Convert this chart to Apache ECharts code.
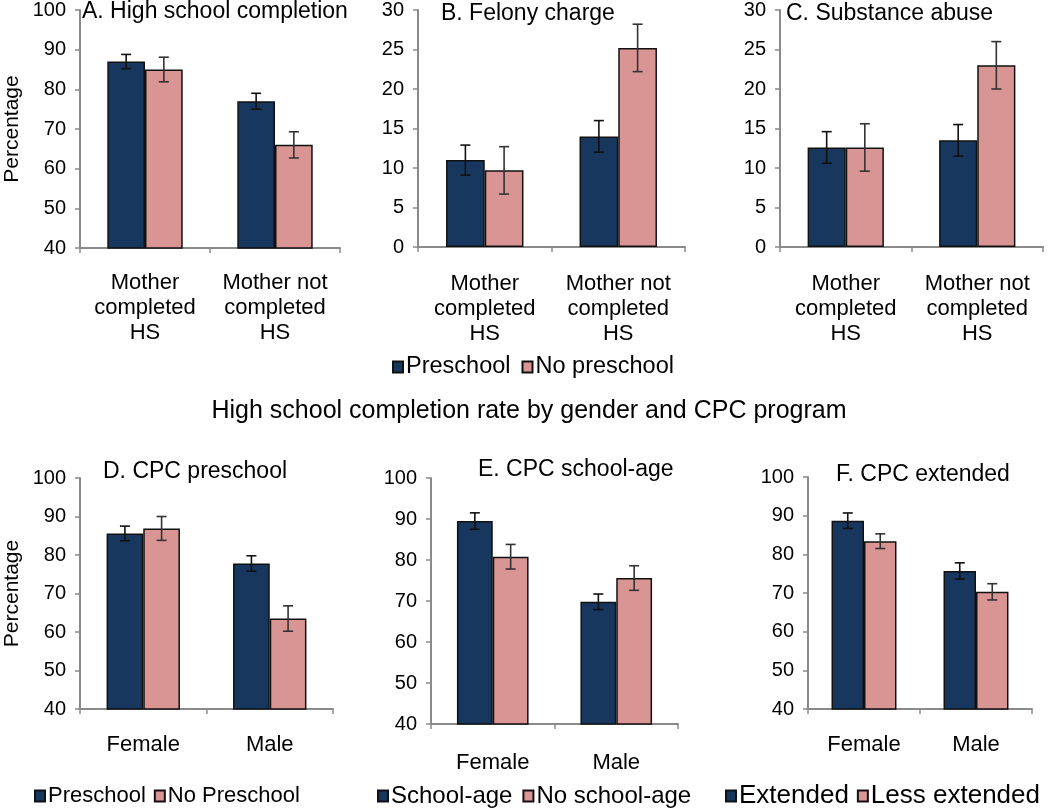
<!DOCTYPE html>
<html>
<head>
<meta charset="utf-8">
<script src="https://cdn.jsdelivr.net/npm/echarts@6/dist/echarts.min.js"></script>
<style>
html,body{margin:0;padding:0;background:#fff;}
#chart{width:1050px;height:811px;}
</style>
</head>
<body>
<div id="chart"></div>
<script>
// ---- Data ----
const motherCats = ['Mother\ncompleted\nHS', 'Mother not\ncompleted\nHS'];
const genderCats = ['Female', 'Male'];

const aPre = [87.0, 77.0],  aPreErr = [1.8, 2.0];
const aNo  = [85.0, 66.0],  aNoErr  = [3.1, 3.3];
const bPre = [11.0, 14.0],  bPreErr = [1.9, 2.0];
const bNo  = [9.7, 25.2],   bNoErr  = [3.0, 3.0];
const cPre = [12.6, 13.5],  cPreErr = [2.0, 2.0];
const cNo  = [12.6, 23.0],  cNoErr  = [3.0, 3.0];
const dPre = [85.6, 77.8],  dPreErr = [1.9, 2.0];
const dNo  = [86.9, 63.5],  dNoErr  = [3.1, 3.3];
const eYes = [89.5, 69.8],  eYesErr = [2.0, 1.9];
const eNo  = [80.8, 75.6],  eNoErr  = [3.0, 3.0];
const fYes = [88.7, 75.7],  fYesErr = [2.0, 2.1];
const fNo  = [83.4, 70.3],  fNoErr  = [1.9, 2.1];

const panelTitles = ['A. High school completion', 'B. Felony charge', 'C. Substance abuse',
                     'D. CPC preschool', 'E. CPC school-age', 'F. CPC extended'];
const mainTitle = 'High school completion rate by gender and CPC program';
const legendA = ['Preschool', 'No preschool'];
const legendD = ['Preschool', 'No Preschool'];
const legendE = ['School-age', 'No school-age'];
const legendF = ['Extended', 'Less extended'];
const yTitle = 'Percentage';

// ---- Styling / layout ----
const FONT = '"Liberation Sans", Arial, sans-serif';
const DARK = '#17375e', PINK = '#d99594';
const BW = 0.29; // bar width fraction of band

const panels = [
  {grid:{left:80, top:10, width:260, height:238}, cats:motherCats, min:40, max:100, step:10, s:[aPre,aNo], e:[aPreErr,aNoErr], names:legendA, yname:true, labMargin:22, title:{left:82, top:0}},
  {grid:{left:418, top:8, width:267, height:239}, cats:motherCats, min:0, max:30, step:5, s:[bPre,bNo], e:[bPreErr,bNoErr], names:legendA, labMargin:24, title:{left:441, top:2}},
  {grid:{left:780, top:9, width:263, height:238}, cats:motherCats, min:0, max:30, step:5, s:[cPre,cNo], e:[cPreErr,cNoErr], names:legendA, labMargin:24, title:{left:786, top:2}},
  {grid:{left:80, top:478, width:253, height:231}, cats:genderCats, min:40, max:100, step:10, s:[dPre,dNo], e:[dPreErr,dNoErr], names:legendD, yname:true, labMargin:23, title:{left:103, top:460}},
  {grid:{left:431, top:478, width:247, height:246}, cats:genderCats, min:40, max:100, step:10, s:[eYes,eNo], e:[eYesErr,eNoErr], names:legendE, labMargin:26, title:{left:478, top:458}},
  {grid:{left:808, top:477, width:224, height:232}, cats:genderCats, min:40, max:100, step:10, s:[fYes,fNo], e:[fYesErr,fNoErr], names:legendF, labMargin:23, title:{left:836, top:463}}
];

const grids = [], xAxes = [], yAxes = [], series = [], titles = [];

function errRender(side){
  return function(params, api){
    const idx = api.value(0), v = api.value(1), e = api.value(2);
    const band = api.size([1, 0])[0];
    const x = api.coord([idx, v])[0] + side * band * BW / 2;
    const yt = api.coord([idx, v + e])[1];
    const yb = api.coord([idx, v - e])[1];
    const cap = 5;
    const st = {stroke: side < 0 ? '#111' : '#333', lineWidth:1.6};
    return {type:'group', children:[
      {type:'line', shape:{x1:x, y1:yt, x2:x, y2:yb}, style:st},
      {type:'line', shape:{x1:x-cap, y1:yt, x2:x+cap, y2:yt}, style:st},
      {type:'line', shape:{x1:x-cap, y1:yb, x2:x+cap, y2:yb}, style:st}
    ]};
  };
}

panels.forEach((p, i) => {
  grids.push(Object.assign({containLabel:false}, p.grid));
  xAxes.push({
    type:'category', gridIndex:i, data:p.cats,
    axisLine:{lineStyle:{color:'#8a8a8a', width:2}},
    axisTick:{show:true, length:5, lineStyle:{color:'#8a8a8a', width:1.5}},
    axisLabel:{color:'#000', fontSize:22, fontFamily:FONT, lineHeight:25, margin:p.labMargin, interval:0}
  });
  yAxes.push({
    type:'value', gridIndex:i, min:p.min, max:p.max, interval:p.step,
    splitLine:{show:false},
    axisLine:{show:true, lineStyle:{color:'#8a8a8a', width:2}},
    axisTick:{show:true, length:5, lineStyle:{color:'#8a8a8a', width:1.5}},
    axisLabel:{color:'#000', fontSize:20, fontFamily:FONT, margin:14},
    name: p.yname ? yTitle : '',
    nameLocation:'middle', nameGap:57,
    nameTextStyle:{color:'#000', fontSize:21, fontFamily:FONT}
  });
  const colors = [DARK, PINK];
  [0,1].forEach(k => {
    series.push({
      type:'bar', name:p.names[k], xAxisIndex:i, yAxisIndex:i,
      data:p.s[k], barWidth:(BW*100)+'%', barGap:'0%',
      itemStyle:{color:colors[k], borderColor:'#111', borderWidth:1.5},
      emphasis:{disabled:true}, z:2
    });
    series.push({
      type:'custom', xAxisIndex:i, yAxisIndex:i, z:5,
      data:p.s[k].map((v, j) => [j, v, p.e[k][j]]),
      renderItem: errRender(k === 0 ? -1 : 1),
      silent:true
    });
  });
  titles.push({
    text:panelTitles[i], left:p.title.left, top:p.title.top, padding:0,
    textStyle:{color:'#000', fontSize:23, fontWeight:'normal', fontFamily:FONT}
  });
});

titles.push({
  text:mainTitle, left:529, top:399, padding:0, textAlign:'center',
  textStyle:{color:'#000', fontSize:25, fontWeight:'normal', fontFamily:FONT}
});

function mkLegend(data, left, top, gap, fs){
  return {
    data:data, left:left, top:top, orient:'horizontal', padding:0,
    itemWidth:10, itemHeight:11, itemGap:gap, icon:'rect',
    selectedMode:false,
    textStyle:{color:'#000', fontSize:fs, fontFamily:FONT, padding:[0,0,0,-2]}
  };
}

const option = {
  animation:false,
  backgroundColor:'#fff',
  title:titles,
  legend:[
    mkLegend(legendA, 392, 355, 11, 23.5),
    mkLegend(legendD, 34, 785, 8, 22),
    mkLegend(legendE, 377, 784, 10, 24),
    mkLegend(legendF, 725, 783, 8, 26)
  ],
  grid:grids, xAxis:xAxes, yAxis:yAxes, series:series
};

const chart = echarts.init(document.getElementById('chart'), null, {renderer:'canvas'});
chart.setOption(option);
</script>
</body>
</html>
